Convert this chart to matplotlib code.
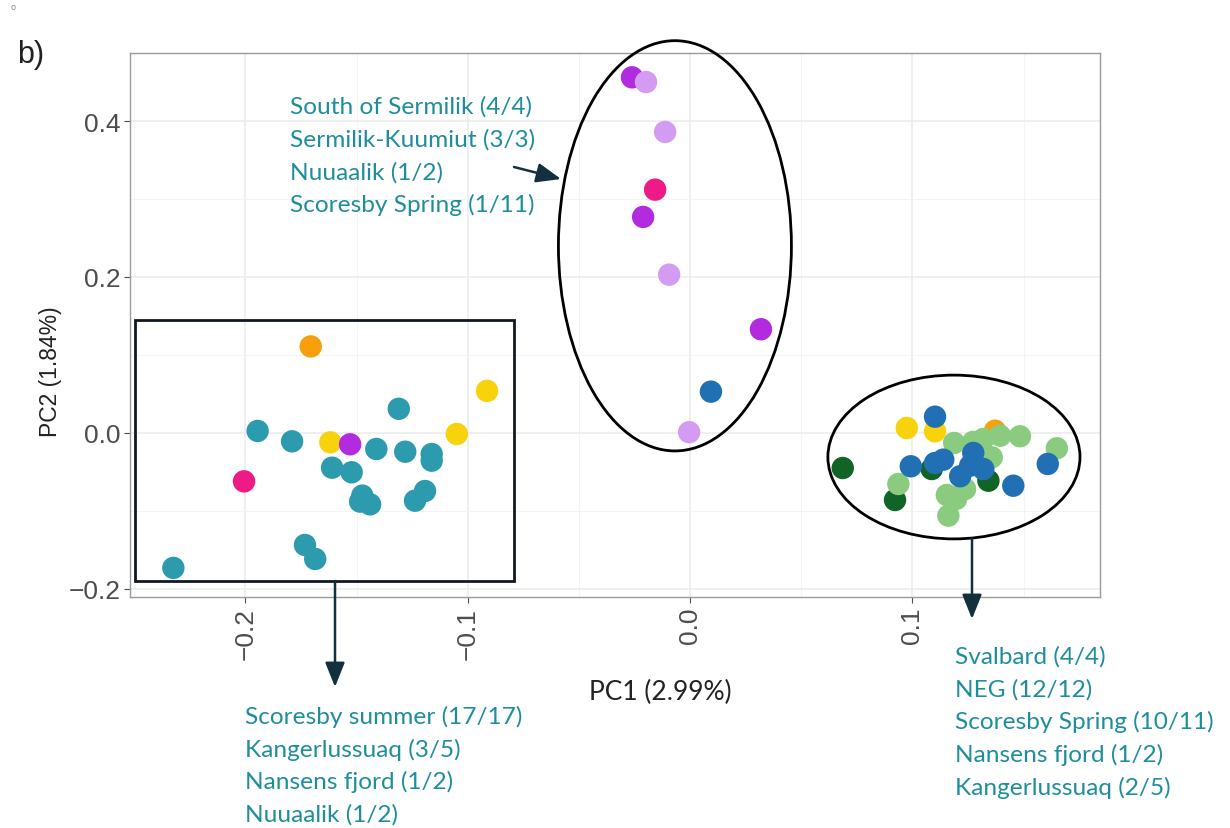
import matplotlib
matplotlib.use("Agg")
import matplotlib.pyplot as plt
from matplotlib.patches import Ellipse, Rectangle, FancyArrowPatch

# PCA scores, grouped by point colour
teal_x = [-0.1310, -0.1945, -0.1790, -0.1411, -0.1281, -0.1162, -0.1162, -0.1610, -0.1522,
          -0.1192, -0.1237, -0.1474, -0.1484, -0.1439, -0.1732, -0.1686, -0.2324]
teal_y = [0.031, 0.0026, -0.0107, -0.0205, -0.024, -0.027, -0.0355, -0.0445, -0.0504,
          -0.0744, -0.0868, -0.0803, -0.088, -0.0915, -0.1436, -0.1615, -0.173]
orange_x = [-0.1706, 0.1372]
orange_y = [0.111, 0.0029]
yellow_x = [-0.0913, -0.1049, -0.1618, 0.0975, 0.1102]
yellow_y = [0.054, -0.0013, -0.012, 0.0064, 0.0022]
pink_x = [-0.2006, -0.0157]
pink_y = [-0.062, 0.312]
purple_x = [-0.1529, -0.0261, -0.0211, 0.0319]
purple_y = [-0.0145, 0.456, 0.277, 0.133]
lilac_x = [-0.0198, -0.0112, -0.0094, -0.0004]
lilac_y = [0.450, 0.386, 0.203, 0.001]
dkgreen_x = [0.0687, 0.0922, 0.1087, 0.1342]
dkgreen_y = [-0.0449, -0.0859, -0.0462, -0.0612]
ltgreen_x = [0.0937, 0.1188, 0.1155, 0.1162, 0.1237, 0.1319, 0.1395, 0.1484, 0.1357,
             0.1650, 0.1197, 0.1273]
ltgreen_y = [-0.0654, -0.0128, -0.0795, -0.106, -0.0718, -0.0077, -0.0035, -0.0042,
             -0.0312, -0.0196, -0.0846, -0.0115]
blue_x = [0.0094, 0.1102, 0.0993, 0.1102, 0.1139, 0.1215, 0.1274, 0.1260, 0.1319, 0.1454, 0.1609]
blue_y = [0.053, 0.0209, -0.0427, -0.0385, -0.0342, -0.0555, -0.0256, -0.0419, -0.0462,
          -0.0676, -0.0397]

groups = [
    (teal_x, teal_y, "#2B9BAD"),
    (orange_x, orange_y, "#F7A00B"),
    (yellow_x, yellow_y, "#F8D20A"),
    (pink_x, pink_y, "#EE1A85"),
    (purple_x, purple_y, "#B32BDF"),
    (lilac_x, lilac_y, "#D49BF2"),
    (dkgreen_x, dkgreen_y, "#106426"),
    (ltgreen_x, ltgreen_y, "#8BCB80"),
    (blue_x, blue_y, "#2070B3"),
]

xticks = [-0.2, -0.1, 0.0, 0.1]
yticks = [-0.2, 0.0, 0.2, 0.4]

label_sermilik = ["South of Sermilik (4/4)", "Sermilik-Kuumiut (3/3)", "Nuuaalik (1/2)",
                  "Scoresby Spring (1/11)"]
label_summer = ["Scoresby summer (17/17)", "Kangerlussuaq (3/5)", "Nansens fjord (1/2)",
                "Nuuaalik (1/2)"]
label_east = ["Svalbard (4/4)", "NEG (12/12)", "Scoresby Spring (10/11)",
              "Nansens fjord (1/2)", "Kangerlussuaq (2/5)"]

W, H = 1230, 829
fig = plt.figure(figsize=(W / 100, H / 100), dpi=100)


def fx(px):
    return px / W


def fy(py):
    return 1 - py / H


ax = fig.add_axes([fx(130), fy(598), (1100 - 130) / W, (598 - 54) / H])

for gx, gy, col in groups:
    ax.scatter(gx, gy, s=260, color=col, edgecolors="none", zorder=3)

ax.set_xlim(-0.2519, 0.1844)
ax.set_ylim(-0.2103, 0.4872)
ax.set_xticks(xticks)
ax.set_yticks(yticks)
ax.set_xticks([-0.25, -0.15, -0.05, 0.05, 0.15], minor=True)
ax.set_yticks([-0.1, 0.1, 0.3], minor=True)
ax.grid(True, which="major", color="#EBEBEB", linewidth=1.1, zorder=0)
ax.grid(True, which="minor", color="#F4F4F4", linewidth=0.7, zorder=0)
ax.set_axisbelow(True)
for sp in ax.spines.values():
    sp.set_color("#9A9A9A")
    sp.set_linewidth(1.0)

ax.set_xticklabels(["\u22120.2", "\u22120.1", "0.0", "0.1"], rotation=90,
                   family="Liberation Sans", fontsize=19, color="#4D4D4D")
ax.set_yticklabels(["\u22120.2", "0.0", "0.2", "0.4"],
                   family="Liberation Sans", fontsize=19, color="#4D4D4D")
ax.tick_params(which="major", length=4, color="#4D4D4D", pad=3)
ax.tick_params(which="minor", length=0)

fig.text(fx(660), fy(692), "PC1 (2.99%)", ha="center", va="center",
         family="Lato", fontsize=19, color="#222222")
fig.text(fx(50), fy(372), "PC2 (1.84%)", ha="center", va="center", rotation=90,
         family="Liberation Sans", fontsize=16.5, color="#222222")
fig.text(fx(17), fy(55), "b)", ha="left", va="center", family="Liberation Sans",
         fontsize=22, color="#222222")
fig.text(fx(13), fy(8), "o", ha="center", va="center", fontsize=6, color="#888888")

# grouping outlines
ax.add_patch(Ellipse((-0.0068, 0.240), 0.1048, 0.526, fill=False, edgecolor="black",
                     linewidth=2, clip_on=False, zorder=4))
ax.add_patch(Ellipse((0.1187, -0.0308), 0.1134, 0.210, fill=False, edgecolor="black",
                     linewidth=2, clip_on=False, zorder=4))
ax.add_patch(Rectangle((-0.2497, -0.190), 0.1705, 0.3346, fill=False, edgecolor="#111820",
                       linewidth=2, clip_on=False, zorder=4))

teal_txt = "#1E8E9C"
for i, s in enumerate(label_sermilik):
    fig.text(fx(290), fy(107 + 32.7 * i), s, ha="left", va="center",
             family="Lato", fontsize=17.6, color=teal_txt)
for i, s in enumerate(label_summer):
    fig.text(fx(245), fy(717 + 32.7 * i), s, ha="left", va="center",
             family="Lato", fontsize=17.6, color=teal_txt)
for i, s in enumerate(label_east):
    fig.text(fx(955), fy(657 + 32.7 * i), s, ha="left", va="center",
             family="Lato", fontsize=17.6, color=teal_txt)

arrow_kw = dict(arrowstyle="-|>,head_length=0.75,head_width=0.3", color="#13303F",
                lw=1.8, mutation_scale=20, shrinkA=0, shrinkB=0)
fig.add_artist(FancyArrowPatch((fx(514), fy(168)), (fx(561), fy(180)),
                               transform=fig.transFigure, **arrow_kw))
fig.add_artist(FancyArrowPatch((fx(335), fy(582)), (fx(335), fy(688)),
                               transform=fig.transFigure, **arrow_kw))
fig.add_artist(FancyArrowPatch((fx(972), fy(540)), (fx(972), fy(620)),
                               transform=fig.transFigure, **arrow_kw))

fig.savefig("out.png", dpi=100)
